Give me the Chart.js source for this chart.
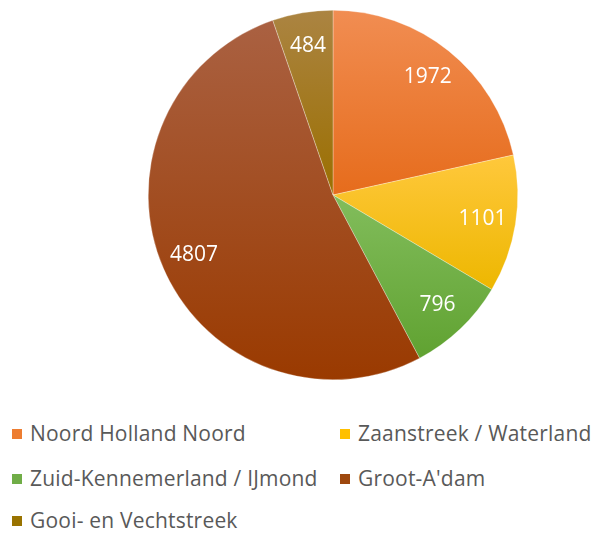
<!DOCTYPE html>
<html>
<head>
<meta charset="utf-8">
<script src="https://cdn.jsdelivr.net/npm/chart.js@4.4.1/dist/chart.umd.min.js"></script>
<style>
  html, body { margin: 0; padding: 0; background: #fff; }
  #wrap { position: relative; width: 593px; height: 535px; }
  #pie { position: absolute; left: 0; top: 0; width: 593px; height: 400px; }
  .leg { position: absolute; font-family: 'Open Sans', sans-serif; font-size: 21px;
         color: #595959; line-height: 26px; white-space: nowrap; letter-spacing: 0.2px; }
  .leg i { display: inline-block; width: 10px; height: 10px; margin-right: 8px;
           vertical-align: 2px; }
</style>
</head>
<body>
<div id="wrap">
  <canvas id="pie" width="593" height="400"></canvas>
  <div id="legende"></div>
</div>
<script>
// Données du graphique
const regios = ['Noord Holland Noord', 'Zaanstreek / Waterland', 'Zuid-Kennemerland / IJmond', 'Groot-A\'dam', 'Gooi- en Vechtstreek']
const aantallen = [1972, 1101, 796, 4807, 484]

// couleurs : haut (clair) / bas (foncé) de chaque part
const hautCouleurs = ['#F18D52', '#FFC83C', '#82BD5C', '#AA6142', '#AB8442']
const basCouleurs  = ['#E66C1C', '#EDB700', '#60A231', '#9A3A00', '#9B6F00']
const legendeCouleurs = ['#ED7D31', '#FFC000', '#70AD47', '#9E480E', '#997300']

// positions de la légende (2 colonnes)
const legendePos = [[12, 420], [340, 420], [12, 465], [340, 465], [12, 507]]

// Dégradé vertical par part, calé sur la boîte englobante du secteur
const degrades = {
  id: 'degrades',
  beforeDatasetsDraw(chart) {
    const { ctx } = chart
    chart.getDatasetMeta(0).data.forEach((arc, i) => {
      const { x, y, startAngle, endAngle, outerRadius } = arc.getProps(['x', 'y', 'startAngle', 'endAngle', 'outerRadius'], true)
      let yMin = y, yMax = y
      for (let k = 0; k <= 60; k++) {
        const a = startAngle + (endAngle - startAngle) * k / 60
        const py = y + Math.sin(a) * outerRadius
        yMin = Math.min(yMin, py); yMax = Math.max(yMax, py)
      }
      const g = ctx.createLinearGradient(0, yMin, 0, yMax)
      g.addColorStop(0, hautCouleurs[i])
      g.addColorStop(1, basCouleurs[i])
      arc.options.backgroundColor = g
    })
  },
}

// Étiquettes de valeurs en blanc dans les parts
const etiquettes = {
  id: 'etiquettes',
  afterDatasetsDraw(chart) {
    const { ctx } = chart
    ctx.save()
    ctx.fillStyle = '#FFFFFF'
    ctx.font = "21px 'Open Sans', sans-serif"
    ctx.textAlign = 'center'
    ctx.textBaseline = 'middle'
    chart.getDatasetMeta(0).data.forEach((arc, i) => {
      const { x, y, startAngle, endAngle, outerRadius } = arc.getProps(['x', 'y', 'startAngle', 'endAngle', 'outerRadius'], true)
      const mid = (startAngle + endAngle) / 2
      const r = outerRadius * 0.82
      ctx.fillText(String(aantallen[i]), x + Math.cos(mid) * r, y + Math.sin(mid) * r)
    })
    ctx.restore()
  },
}

new Chart(document.getElementById('pie').getContext('2d'), {
  type: 'pie',
  data: {
    labels: regios,
    datasets: [{
      data: aantallen,
      backgroundColor: legendeCouleurs,
      borderColor: 'rgba(255,255,255,0.6)',
      borderWidth: 0.5,
    }],
  },
  options: {
    responsive: false,
    animation: false,
    devicePixelRatio: 1,
    layout: { padding: { left: 148, right: 75, top: 10, bottom: 20 } },
    plugins: { legend: { display: false }, tooltip: { enabled: false } },
    events: [],
  },
  plugins: [degrades, etiquettes],
})

const legende = document.getElementById('legende')
regios.forEach((nom, i) => {
  const d = document.createElement('div')
  d.className = 'leg'
  d.style.left = legendePos[i][0] + 'px'
  d.style.top = legendePos[i][1] + 'px'
  d.innerHTML = '<i style="background:' + legendeCouleurs[i] + '"></i>' + nom
  legende.appendChild(d)
})
</script>
</body>
</html>
